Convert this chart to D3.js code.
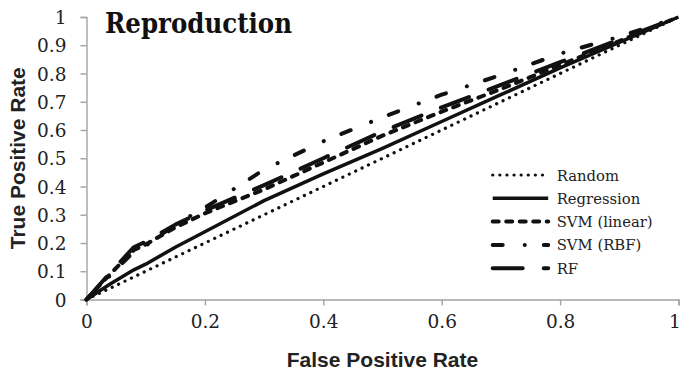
<!DOCTYPE html>
<html>
<head>
<meta charset="utf-8">
<script src="https://cdn.jsdelivr.net/npm/d3@7/dist/d3.min.js"></script>
<style>
  html, body { margin: 0; padding: 0; background: #fff; }
  svg { display: block; }
</style>
</head>
<body>
<svg id="chart" width="682" height="375"></svg>
<script>
// False positive rate grid shared by every ROC curve
const fpr = [0, 0.04, 0.08, 0.1, 0.15, 0.2, 0.3, 0.4, 0.5, 0.6, 0.7, 0.8, 0.9, 1];

// True positive rate of each model at the grid points above
const tprRandom     = [0, 0.04, 0.08, 0.1, 0.15, 0.2, 0.3, 0.4, 0.5, 0.6, 0.7, 0.8, 0.9, 1];
const tprRegression = [0, 0.055, 0.105, 0.125, 0.185, 0.24, 0.35, 0.445, 0.535, 0.63, 0.725, 0.82, 0.91, 1];
const tprSvmLinear  = [0, 0.09, 0.175, 0.195, 0.255, 0.305, 0.39, 0.485, 0.58, 0.665, 0.745, 0.83, 0.915, 1];
const tprSvmRbf     = [0, 0.085, 0.17, 0.19, 0.265, 0.325, 0.46, 0.56, 0.645, 0.725, 0.795, 0.87, 0.93, 1];
const tprRF         = [0, 0.095, 0.185, 0.205, 0.265, 0.315, 0.405, 0.5, 0.595, 0.68, 0.76, 0.84, 0.92, 1];

const seriesNames = ["Random", "Regression", "SVM (linear)", "SVM (RBF)", "RF"];
const xTicks = [0, 0.2, 0.4, 0.6, 0.8, 1];
const yTicks = [0, 0.1, 0.2, 0.3, 0.4, 0.5, 0.6, 0.7, 0.8, 0.9, 1];

const chartTitle = "Reproduction";
const xTitle = "False Positive Rate";
const yTitle = "True Positive Rate";

// Line styles per series
const styles = [
  { dash: "0.1,7",          width: 3.2 },
  { dash: null,             width: 3.5 },
  { dash: "6,7.5",          width: 4 },
  { dash: "10,22,0.1,19",   width: 4 },
  { dash: "30,21",          width: 4 }
];

const series = [tprRandom, tprRegression, tprSvmLinear, tprSvmRbf, tprRF].map((tpr, i) => ({
  name: seriesNames[i],
  points: fpr.map((f, j) => ({ x: f, y: tpr[j] })),
  style: styles[i]
}));

const svg = d3.select("#chart");
const plotLeft = 86.5, plotRight = 678.5, plotTop = 17, plotBottom = 299.5;

const x = d3.scaleLinear().domain([0, 1]).range([plotLeft, plotRight]);
const y = d3.scaleLinear().domain([0, 1]).range([plotBottom, plotTop]);

const axisColor = "#a3a3a3";
const textColor = "#222";
const serif = "'DejaVu Serif', 'Liberation Serif', serif";
const sansBold = "'Liberation Sans', Arial, sans-serif";
const tickFmt = d => d === 0 || d === 1 ? String(d) : d3.format(".1f")(d);

// Axes
const yAxis = svg.append("g")
  .attr("transform", `translate(${plotLeft},0)`)
  .call(d3.axisLeft(y).tickValues(yTicks).tickSize(6).tickPadding(14).tickFormat(tickFmt));
const xAxis = svg.append("g")
  .attr("transform", `translate(0,${plotBottom})`)
  .call(d3.axisBottom(x).tickValues(xTicks).tickSize(6).tickPadding(8).tickFormat(tickFmt));

[yAxis, xAxis].forEach(g => {
  g.select(".domain").attr("stroke", axisColor).attr("stroke-width", 1.4);
  g.selectAll(".tick line").attr("stroke", axisColor).attr("stroke-width", 1.4);
  g.selectAll(".tick text")
    .attr("fill", textColor)
    .style("font-family", serif)
    .style("font-size", "18.5px");
});
yAxis.selectAll(".tick text").attr("dy", "0.36em");
xAxis.selectAll(".tick text").attr("dy", "0.78em");
// keep the last x label inside the canvas edge
xAxis.selectAll(".tick text").filter(d => d === 1).attr("dx", -4);

// ROC curves
const line = d3.line().x(d => x(d.x)).y(d => y(d.y));
svg.append("g").selectAll("path")
  .data(series)
  .join("path")
  .attr("d", d => line(d.points))
  .attr("fill", "none")
  .attr("stroke", "#111")
  .attr("stroke-width", d => d.style.width)
  .attr("stroke-linecap", d => d.style.dash ? "round" : "butt")
  .attr("stroke-linejoin", "round")
  .attr("stroke-dasharray", d => d.style.dash);

// Title
svg.append("text")
  .attr("x", 105).attr("y", 33)
  .attr("textLength", 187).attr("lengthAdjust", "spacingAndGlyphs")
  .style("font-family", serif).style("font-weight", "bold").style("font-size", "27px")
  .attr("fill", "#111")
  .text(chartTitle);

// Axis titles
svg.append("text")
  .attr("x", (plotLeft + plotRight) / 2).attr("y", 367)
  .attr("text-anchor", "middle")
  .style("font-family", sansBold).style("font-weight", "bold").style("font-size", "21px")
  .attr("fill", textColor)
  .text(xTitle);

svg.append("text")
  .attr("transform", `translate(25,${(plotTop + plotBottom) / 2}) rotate(-90)`)
  .attr("text-anchor", "middle")
  .style("font-family", sansBold).style("font-weight", "bold").style("font-size", "21px")
  .attr("fill", textColor)
  .text(yTitle);

// Legend
const legend = svg.append("g").attr("transform", "translate(490.7,175)");
const rowGap = 23.3;
const rows = legend.selectAll("g").data(series).join("g")
  .attr("transform", (d, i) => `translate(0,${i * rowGap})`);
rows.append("line")
  .attr("x1", 2).attr("x2", 57.5).attr("y1", 0).attr("y2", 0)
  .attr("stroke", "#111")
  .attr("stroke-width", d => d.style.width)
  .attr("stroke-linecap", d => d.style.dash ? "round" : "butt")
  .attr("stroke-dasharray", d => d.style.dash);
rows.append("text")
  .attr("x", 66).attr("y", 5.5)
  .style("font-family", serif).style("font-size", "14.8px")
  .attr("fill", textColor)
  .text(d => d.name);
</script>
</body>
</html>
